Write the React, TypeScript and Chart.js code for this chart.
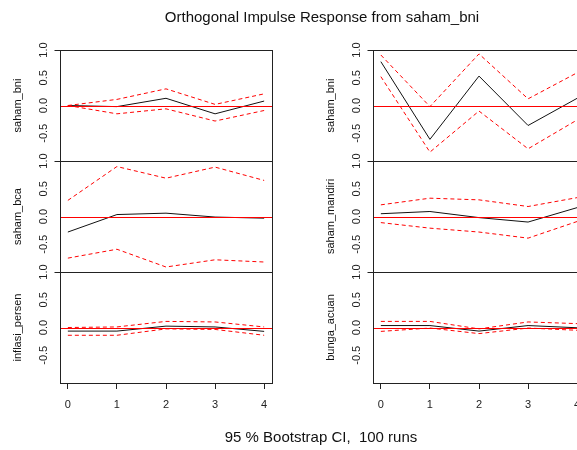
import React, { useEffect, useRef } from 'react';
import { Chart, registerables } from 'chart.js';

Chart.register(...registerables);

// ---------- data ----------
const steps = [0, 1, 2, 3, 4];
const xTickValues = [0, 1, 2, 3, 4];
const yTickValues = [-0.5, 0, 0.5, 1];

// left column
const irfBniLeft = [0.0, -0.02, 0.13, -0.15, 0.08];
const upperBniLeft = [0.0, 0.11, 0.3, 0.02, 0.21];
const lowerBniLeft = [0.0, -0.15, -0.06, -0.28, -0.09];

const irfBca = [-0.28, 0.035, 0.06, -0.01, -0.03];
const upperBca = [0.29, 0.9, 0.69, 0.89, 0.65];
const lowerBca = [-0.75, -0.59, -0.91, -0.78, -0.82];

const irfInflasi = [-0.065, -0.065, 0.025, 0.01, -0.07];
const upperInflasi = [0.0, 0.01, 0.11, 0.1, 0.01];
const lowerInflasi = [-0.14, -0.14, -0.025, -0.035, -0.14];

// right column
const irfBniRight = [0.79, -0.61, 0.53, -0.36, 0.13];
const upperBniRight = [0.91, -0.02, 0.93, 0.12, 0.59];
const lowerBniRight = [0.52, -0.84, -0.1, -0.78, -0.26];

const irfMandiri = [0.05, 0.09, -0.02, -0.1, 0.16];
const upperMandiri = [0.21, 0.33, 0.3, 0.18, 0.34];
const lowerMandiri = [-0.11, -0.21, -0.28, -0.39, -0.09];

const irfBunga = [0.035, 0.035, -0.065, 0.035, -0.005];
const upperBunga = [0.11, 0.11, -0.025, 0.1, 0.07];
const lowerBunga = [-0.07, -0.01, -0.11, -0.01, -0.05];

const leftNames = ['saham_bni', 'saham_bca', 'inflasi_persen'];
const rightNames = ['saham_bni', 'saham_mandiri', 'bunga_acuan'];

const mainTitle = 'Orthogonal Impulse Response from saham_bni';
const subTitle = '95 % Bootstrap CI,  100 runs';

// ---------- layout ----------
const CANVAS_W = 300;
const CANVAS_H = 450;
const COL_LEFT = [0, 300];
const COL_PAD_LEFT = [0, 13];
const COL_PAD_RIGHT = [28, 15];
const PAD_TOP = 50;
const PAD_BOTTOM = 32;
const X_AXIS_H = 35;
const Y_AXIS_W = 60;
const FONT = '"Liberation Sans", Arial, Helvetica, sans-serif';

const pts = (vals: number[]) => steps.map((s, i) => ({ x: s, y: vals[i] }));
const AXIS_IDS = ['y0', 'y1', 'y2'];

// draws the R-style panel boxes, the red zero reference lines and the 1.0 tick marks
const panelPlugin = {
  id: 'panelDecor',
  afterDatasetsDraw(chart: any) {
    const { ctx, chartArea: a } = chart;
    ctx.save();
    ctx.setLineDash([]);
    ctx.lineWidth = 1;
    ctx.strokeStyle = '#ff0000';
    for (const id of AXIS_IDS) {
      const s = chart.scales[id];
      const y = Math.round(s.getPixelForValue(0)) + 0.5;
      ctx.beginPath();
      ctx.moveTo(a.left, y);
      ctx.lineTo(a.right, y);
      ctx.stroke();
    }
    ctx.restore();
  },
  afterDraw(chart: any) {
    const { ctx, chartArea: a } = chart;
    ctx.save();
    ctx.setLineDash([]);
    ctx.lineWidth = 1;
    ctx.strokeStyle = '#222';
    const l = Math.round(a.left) + 0.5;
    const r = Math.round(a.right) + 0.5;
    for (const id of AXIS_IDS) {
      const s = chart.scales[id];
      const t = Math.round(s.getPixelForValue(1)) + 0.5;
      const b = Math.round(s.getPixelForValue(-1)) + 0.5;
      ctx.strokeRect(l, t, r - l, b - t);
      ctx.beginPath();
      ctx.moveTo(l - 6, t);
      ctx.lineTo(l, t);
      ctx.stroke();
    }
    ctx.restore();
  },
};

type ColumnProps = {
  col: number;
  names: string[];
  irfs: number[][];
  uppers: number[][];
  lowers: number[][];
};

function yAxis(name: string, weight: number) {
  return {
    type: 'linear',
    position: 'left',
    stack: 'panels',
    stackWeight: 1,
    weight,
    min: -1,
    max: 1,
    afterBuildTicks: (s: any) => {
      s.ticks = yTickValues.map((v) => ({ value: v }));
    },
    afterFit: (s: any) => {
      s.width = Y_AXIS_W;
    },
    ticks: {
      autoSkip: false,
      minRotation: 90,
      maxRotation: 90,
      crossAlign: 'center',
      padding: 7,
      color: '#222',
      font: { family: FONT, size: 11 },
      callback: (v: any) => Number(v).toFixed(1),
    },
    grid: { display: false, drawTicks: false },
    border: { display: false },
    title: {
      display: true,
      text: name,
      color: '#111',
      font: { family: FONT, size: 11 },
      padding: { top: 11, bottom: 0 },
    },
  };
}

function Column({ col, names, irfs, uppers, lowers }: ColumnProps) {
  const ref = useRef<HTMLCanvasElement | null>(null);
  useEffect(() => {
    if (!ref.current) return;
    const datasets: any[] = [];
    for (let p = 0; p < 3; p++) {
      const yAxisID = AXIS_IDS[p];
      datasets.push(
        { data: pts(uppers[p]), yAxisID, borderColor: '#ff0000', borderDash: [4, 3], borderWidth: 1, pointRadius: 0, fill: false, tension: 0 },
        { data: pts(lowers[p]), yAxisID, borderColor: '#ff0000', borderDash: [4, 3], borderWidth: 1, pointRadius: 0, fill: false, tension: 0 },
        { data: pts(irfs[p]), yAxisID, borderColor: '#111', borderWidth: 1, pointRadius: 0, fill: false, tension: 0 }
      );
    }
    const chart = new Chart(ref.current, {
      type: 'line',
      data: { datasets },
      options: {
        animation: false,
        responsive: false,
        events: [],
        layout: {
          padding: { left: COL_PAD_LEFT[col], right: COL_PAD_RIGHT[col], top: PAD_TOP, bottom: PAD_BOTTOM },
        },
        plugins: { legend: { display: false }, tooltip: { enabled: false }, title: { display: false } },
        scales: {
          x: {
            type: 'linear',
            min: -0.16,
            max: 4.16,
            afterBuildTicks: (s: any) => {
              s.ticks = xTickValues.map((v) => ({ value: v }));
            },
            afterFit: (s: any) => {
              s.height = X_AXIS_H;
            },
            ticks: { color: '#222', font: { family: FONT, size: 11 }, padding: 9, maxRotation: 0, autoSkip: false },
            grid: { drawOnChartArea: false, drawTicks: true, tickLength: 6, color: '#222' },
            border: { display: false },
          },
          y0: yAxis(names[0], 3),
          y1: yAxis(names[1], 2),
          y2: yAxis(names[2], 1),
        },
      } as any,
      plugins: [panelPlugin],
    });
    return () => chart.destroy();
  }, [col, names, irfs, uppers, lowers]);

  return (
    <canvas
      ref={ref}
      width={CANVAS_W}
      height={CANVAS_H}
      style={{ position: 'absolute', left: COL_LEFT[col], top: 0 }}
    />
  );
}

const leftIrfs = [irfBniLeft, irfBca, irfInflasi];
const leftUppers = [upperBniLeft, upperBca, upperInflasi];
const leftLowers = [lowerBniLeft, lowerBca, lowerInflasi];
const rightIrfs = [irfBniRight, irfMandiri, irfBunga];
const rightUppers = [upperBniRight, upperMandiri, upperBunga];
const rightLowers = [lowerBniRight, lowerMandiri, lowerBunga];

export default function App() {
  return (
    <div
      style={{
        position: 'fixed',
        left: 0,
        top: 0,
        width: 577,
        height: 450,
        overflow: 'hidden',
        background: '#fff',
        fontFamily: FONT,
      }}
    >
      <Column col={0} names={leftNames} irfs={leftIrfs} uppers={leftUppers} lowers={leftLowers} />
      <Column col={1} names={rightNames} irfs={rightIrfs} uppers={rightUppers} lowers={rightLowers} />
      <div
        style={{
          position: 'absolute',
          left: 322,
          top: 8,
          transform: 'translateX(-50%)',
          whiteSpace: 'nowrap',
          fontSize: 15,
          lineHeight: '17px',
          color: '#111',
        }}
      >
        {mainTitle}
      </div>
      <div
        style={{
          position: 'absolute',
          left: 321,
          top: 428,
          transform: 'translateX(-50%)',
          whiteSpace: 'pre',
          fontSize: 15,
          lineHeight: '17px',
          color: '#111',
        }}
      >
        {subTitle}
      </div>
    </div>
  );
}
